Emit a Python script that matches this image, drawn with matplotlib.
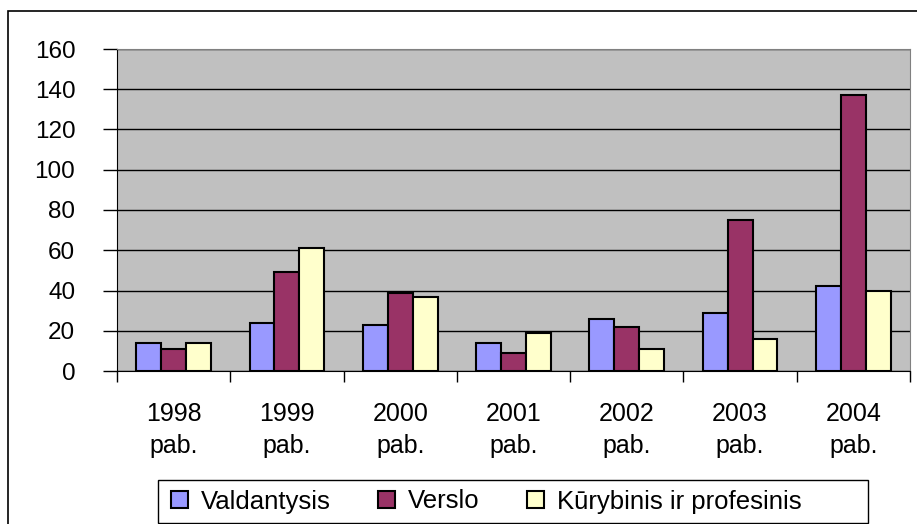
import matplotlib.pyplot as plt
import numpy as np
from matplotlib.patches import Rectangle

plt.rcParams['font.family'] = ['Liberation Sans', 'DejaVu Sans']

years = ['1998', '1999', '2000', '2001', '2002', '2003', '2004']
valdantysis = [14, 24, 23, 14, 26, 29, 42]
verslo = [11, 49, 39, 9, 22, 75, 137]
kurybinis = [14, 61, 37, 19, 11, 16, 40]

series = [('Valdantysis', valdantysis, '#9999FF'),
          ('Verslo', verslo, '#993366'),
          ('Kūrybinis ir profesinis', kurybinis, '#FFFFCC')]

W, H = 917, 524
fig = plt.figure(figsize=(W / 100, H / 100), dpi=100)

# outer chart border
fig.patches.append(Rectangle((8 / W, -0.01), 1.0, 1 - 11 / H + 0.01,
                             transform=fig.transFigure, fill=False,
                             edgecolor='black', linewidth=1.2))
# legend box (drawn separately, Excel style with extra right padding)
fig.patches.append(Rectangle((158 / W, 1 - 523 / H), 710 / W, 43 / H,
                             transform=fig.transFigure, fill=False,
                             edgecolor='black', linewidth=1.0))

ax = fig.add_axes([117 / W, 1 - 371 / H, 793 / W, 322 / H])
ax.set_facecolor('#C0C0C0')

x = np.arange(len(years))
w = 0.22
for i, (name, vals, col) in enumerate(series):
    ax.bar(x + (i - 1) * w, vals, w, color=col, edgecolor='black',
           linewidth=1.5, label=name, zorder=3)

ax.set_xlim(-0.5, len(years) - 0.5)
ax.set_ylim(0, 160)
ax.set_yticks(range(0, 161, 20))
ax.yaxis.grid(True, color='black', linewidth=1, zorder=0)
ax.set_axisbelow(True)

ax.set_xticks(x)
ax.set_xticklabels([y + '\npab.' for y in years], linespacing=1.45)
ax.set_xticks(np.arange(-0.5, len(years), 1), minor=True)
ax.tick_params(axis='x', which='major', length=0, pad=22, labelsize=18)
ax.tick_params(axis='x', which='minor', length=8, width=1, direction='out')
ax.tick_params(axis='y', length=10, width=1, direction='out', labelsize=17.5, pad=20)

for s in ['top', 'right']:
    ax.spines[s].set_color('#808080')
ax.spines['left'].set_color('black')
ax.spines['bottom'].set_color('black')

leg = fig.legend(loc='center left', bbox_to_anchor=(171 / W, 1 - 501.5 / H),
                 ncol=3, fontsize=18.5, frameon=False,
                 handlelength=0.66, handleheight=0.66, handletextpad=0.5,
                 borderpad=0, borderaxespad=0, columnspacing=1.85)

fig.savefig('out.png', dpi=100)
